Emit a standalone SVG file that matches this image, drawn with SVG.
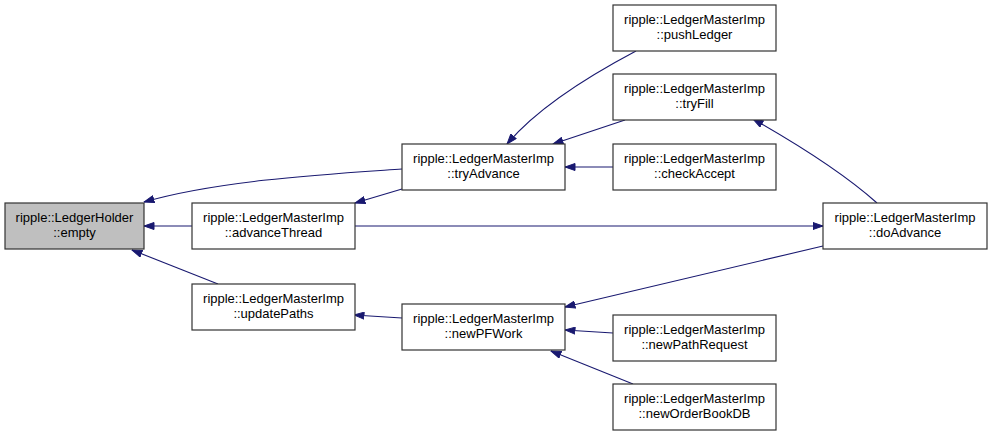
<svg xmlns="http://www.w3.org/2000/svg" width="992" height="435" viewBox="0 0 992 435">
<defs>
<marker id="ah" viewBox="0 0 11 8" refX="10.5" refY="4" markerWidth="11" markerHeight="8" markerUnits="userSpaceOnUse" orient="auto">
<path d="M0.5,0.5 L10.5,4 L0.5,7.5 z" fill="#191970" stroke="#191970" stroke-width="1"/>
</marker>
<style>
.n rect{fill:#ffffff;stroke:#333333;stroke-width:1.2}
.n.h rect{fill:#bfbfbf}
.n text{font-family:"Liberation Sans",Arial,sans-serif;font-size:13px;fill:#000;text-anchor:middle}
.e path{fill:none;stroke:#191970;stroke-width:1.1;marker-end:url(#ah)}
</style>
</defs>
<rect width="992" height="435" fill="#ffffff"/>
<g id="edges" class="e">
<path d="M402,169 C330,174 220,180 144,202"/>
<path d="M192,226 L144,226"/>
<path d="M218,284 L132,250"/>
<path d="M402,189 L355,203"/>
<path d="M636,51 C600,70 540,105 507,144"/>
<path d="M625,120 L553,144"/>
<path d="M613,167 L565,167"/>
<path d="M877,203 C840,170 790,140 753,119"/>
<path d="M355,226 L823,226"/>
<path d="M823,246 L565,307"/>
<path d="M402,318 L354,315"/>
<path d="M613,333 L565,330"/>
<path d="M633,384 L551,351"/>
</g>
<g id="empty" class="n h"><rect x="5" y="203" width="139" height="46"/><text x="74.5" y="222">ripple::LedgerHolder</text><text x="74.5" y="237">::empty</text></g>
<g id="advanceThread" class="n"><rect x="192" y="203" width="163" height="46"/><text x="273.5" y="222">ripple::LedgerMasterImp</text><text x="273.5" y="237">::advanceThread</text></g>
<g id="updatePaths" class="n"><rect x="192" y="284" width="163" height="46"/><text x="273.5" y="303">ripple::LedgerMasterImp</text><text x="273.5" y="318">::updatePaths</text></g>
<g id="tryAdvance" class="n"><rect x="402" y="144" width="163" height="46"/><text x="483.5" y="163">ripple::LedgerMasterImp</text><text x="483.5" y="178">::tryAdvance</text></g>
<g id="newPFWork" class="n"><rect x="402" y="304" width="163" height="46"/><text x="483.5" y="323">ripple::LedgerMasterImp</text><text x="483.5" y="338">::newPFWork</text></g>
<g id="pushLedger" class="n"><rect x="613" y="5" width="163" height="46"/><text x="694.5" y="24">ripple::LedgerMasterImp</text><text x="694.5" y="39">::pushLedger</text></g>
<g id="tryFill" class="n"><rect x="613" y="74" width="163" height="46"/><text x="694.5" y="93">ripple::LedgerMasterImp</text><text x="694.5" y="108">::tryFill</text></g>
<g id="checkAccept" class="n"><rect x="613" y="144" width="163" height="46"/><text x="694.5" y="163">ripple::LedgerMasterImp</text><text x="694.5" y="178">::checkAccept</text></g>
<g id="newPathRequest" class="n"><rect x="613" y="315" width="163" height="46"/><text x="694.5" y="334">ripple::LedgerMasterImp</text><text x="694.5" y="349">::newPathRequest</text></g>
<g id="newOrderBookDB" class="n"><rect x="613" y="384" width="163" height="46"/><text x="694.5" y="403">ripple::LedgerMasterImp</text><text x="694.5" y="418">::newOrderBookDB</text></g>
<g id="doAdvance" class="n"><rect x="823" y="203" width="164" height="46"/><text x="905" y="222">ripple::LedgerMasterImp</text><text x="905" y="237">::doAdvance</text></g>
</svg>
